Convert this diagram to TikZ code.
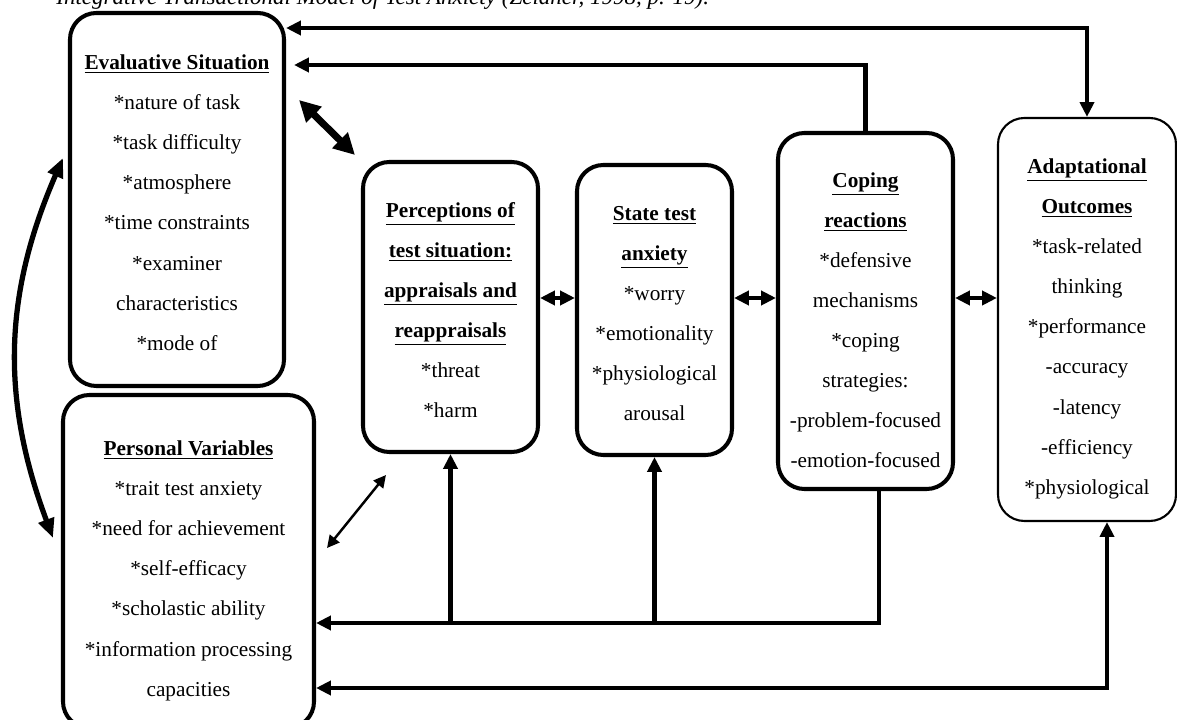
\documentclass[tikz,border=0pt]{standalone}
\usepackage{fontspec}
\setmainfont{Liberation Serif}
\usetikzlibrary{arrows.meta,calc}

\newcommand{\boxhead}[1]{\underline{\textbf{#1}}}
\newcommand{\lift}[1]{\rule{0pt}{#1}}

\begin{document}
\begin{tikzpicture}[
  box/.style={draw, line width=2.3pt, rounded corners=15pt, align=center, inner sep=2pt,
    font=\fontsize{12.1}{22.8}\selectfont},
  thinbox/.style={box, line width=1.2pt},
  link/.style={line width=2.3pt},
  biglink/.style={line width=4pt, {Triangle[length=12pt,width=12pt]}-{Triangle[length=12pt,width=12pt]}},
  curvelink/.style={line width=3pt, {Triangle[length=11pt,width=9pt]}-{Triangle[length=11pt,width=9pt]}},
  thinlink/.style={line width=1.4pt, {Triangle[length=7pt,width=7pt]}-{Triangle[length=7pt,width=7pt]}},
  >={Triangle[length=8.5pt,width=8pt]}
]

  \useasboundingbox (0,0) rectangle (23.54,14.4);

  %\draw[step=1cm,gray,very thin] (0,0) grid (24,15);

  % ***************** CAPTION (cut at the top) *****************
  \node[anchor=base west, inner sep=0pt, font=\fontsize{13.1}{15}\selectfont\itshape] (caption)
    at (1.12,14.31) {Integrative Transactional Model of Test Anxiety (Zeidner, 1998, p. 19).};

  % ***************** LEFT COLUMN *****************
  \node[box, minimum width=4.28cm, minimum height=7.46cm] (eval) at (3.54,10.41)
    {\lift{12pt}\boxhead{Evaluative Situation}\\ *nature of task\\ *task difficulty\\ *atmosphere\\
     *time constraints\\ *examiner\\ characteristics\\ *mode of};

  \node[box, minimum width=5.02cm, minimum height=6.66cm] (pers) at (3.77,3.17)
    {\lift{19pt}\boxhead{Personal Variables}\\ *trait test anxiety\\ *need for achievement\\ *self-efficacy\\
     *scholastic ability\\ *information processing\\ capacities};

  % ***************** MIDDLE *****************
  \node[box, minimum width=3.5cm, minimum height=5.8cm] (perc) at (9.01,8.26)
    {\lift{12pt}\boxhead{Perceptions of}\\ \boxhead{test situation:}\\ \boxhead{appraisals and}\\
     \boxhead{reappraisals}\\ *threat\\ *harm};

  \node[box, minimum width=3.1cm, minimum height=5.8cm] (state) at (13.09,8.2)
    {\lift{12pt}\boxhead{State test}\\ \boxhead{anxiety}\\ *worry\\ *emotionality\\ *physiological\\ arousal};

  \node[box, minimum width=3.5cm, minimum height=7.12cm] (coping) at (17.31,8.18)
    {\lift{19pt}\boxhead{Coping}\\ \boxhead{reactions}\\ *defensive\\ mechanisms\\ *coping\\ strategies:\\
     -problem-focused\\ -emotion-focused};

  % ***************** RIGHT *****************
  \node[thinbox, minimum width=3.56cm, minimum height=8.06cm] (adapt) at (21.74,8.01)
    {\lift{19pt}\boxhead{Adaptational}\\ \boxhead{Outcomes}\\ *task-related\\ thinking\\ *performance\\
     -accuracy\\ -latency\\ -efficiency\\ *physiological};

  % ***************** ARROWS *****************
  \draw[link, <->] (eval.north east |- 0,13.84) -- (adapt.north |- 0,13.84) -- (adapt.north);
  \draw[link, ->] (coping.north) -- (coping.north |- 0,13.1)
    -- ($(eval.east |- 0,13.1)+(0.16,0)$);

  \draw[biglink] ($(eval.east)+(0.26,1.99)$) -- ($(perc.north west)+(-0.12,0.1)$);
  \draw[curvelink] ($(eval.west)+(-0.1,0.83)$) to[bend right=22] ($(pers.west)+(-0.16,0.47)$);
  \draw[thinlink] ($(pers.east)+(0.22,0.27)$) -- ($(perc.south west)+(0.5,-0.42)$);

  \draw[link, <->] (perc.east |- 0,8.44) -- (state.west |- 0,8.44);
  \draw[link, <->] (state.east |- 0,8.44) -- (coping.west |- 0,8.44);
  \draw[link, <->] (coping.east |- 0,8.44) -- (adapt.west |- 0,8.44);

  % feedback to personal variables
  \coordinate (cbot) at ($(coping.south)+(0.27,0)$);
  \draw[link, ->] (cbot) -- (cbot |- 0,1.94) -- (pers.east |- 0,1.94);
  \draw[link, ->] (perc.south |- 0,1.94) -- (perc.south);
  \draw[link, ->] (state.south |- 0,1.94) -- (state.south);

  \coordinate (abot) at ($(adapt.south)+(0.4,0)$);
  \draw[link, <->] (abot) -- (abot |- 0,0.64) -- (pers.east |- 0,0.64);

\end{tikzpicture}
\end{document}
